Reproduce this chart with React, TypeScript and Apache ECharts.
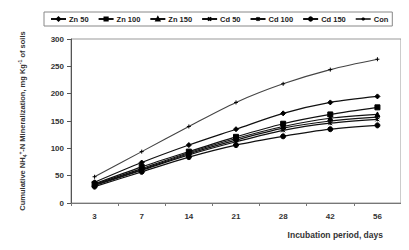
import React, { useEffect, useRef } from "react";
import * as echarts from "echarts";

const categories = ["3", "7", "14", "21", "28", "42", "56"];
const zn50 = [38, 74, 106, 135, 164, 184, 195];
const zn100 = [35, 66, 94, 121, 145, 162, 175];
const zn150 = [34, 63, 92, 118, 140, 155, 162];
const cd50 = [33, 61, 90, 115, 137, 150, 157];
const cd100 = [32, 60, 88, 112, 133, 146, 153];
const cd150 = [30, 57, 84, 106, 122, 135, 142];
const con = [48, 94, 140, 184, 218, 244, 263];
const yTicks = [0, 50, 100, 150, 200, 250, 300];

const FONT = "'Liberation Sans', Arial, sans-serif";

export default function App() {
  const ref = useRef<HTMLDivElement>(null);
  useEffect(() => {
    if (!ref.current) return;
    const chart = echarts.init(ref.current, null, { renderer: "svg" });
    const mk = (name: string, data: number[], symbol: string, size: number, color = "#111", lw = 1.2) => ({
      name,
      type: "line",
      data,
      smooth: 0.3,
      symbol,
      symbolSize: size,
      showSymbol: true,
      lineStyle: { color, width: lw },
      itemStyle: { color: "#000", borderColor: "#000", borderWidth: 1 },
    });
    const xPath = "path://M0,0L10,10M10,0L0,10";
    const starPath = "path://M0,0L10,10M10,0L0,10M5,0L5,10";
    const plusPath = "path://M5,0L5,10M0,5L10,5";
    chart.setOption({
      animation: false,
      backgroundColor: "#fff",
      grid: { left: 71, right: 8, top: 39, bottom: 47, show: true, borderColor: "#999", borderWidth: 1 },
      legend: {
        left: 44,
        top: 12,
        width: 362,
        padding: [3, 4, 3, 6],
        borderColor: "#888",
        borderWidth: 1,
        itemWidth: 15,
        itemHeight: 4,
        itemGap: 9,
        textStyle: { fontFamily: FONT, fontWeight: "bold", fontSize: 7.5, color: "#222", padding: [0, 0, 0, -2] },
        data: ["Zn 50", "Zn 100", "Zn 150", "Cd 50", "Cd 100", "Cd 150", "Con"],
      },
      xAxis: {
        type: "category",
        data: categories,
        boundaryGap: true,
        axisLine: { lineStyle: { color: "#777", width: 1 } },
        axisTick: { show: true, length: 3, lineStyle: { color: "#777" } },
        axisLabel: { fontFamily: FONT, fontWeight: "bold", fontSize: 8, color: "#333", margin: 9 },
      },
      yAxis: {
        type: "value",
        min: 0,
        max: 300,
        interval: 50,
        splitLine: { show: false },
        axisLine: { show: true, lineStyle: { color: "#555", width: 1 } },
        axisTick: { show: true, length: 4, lineStyle: { color: "#555" } },
        axisLabel: {
          fontFamily: FONT,
          fontWeight: "bold",
          fontSize: 8,
          color: "#333",
          margin: 7,
          formatter: (v: number) => (yTicks.includes(v) ? String(v) : ""),
        },
      },
      graphic: [
        { type: "line", shape: { x1: 0, y1: 1, x2: 409, y2: 1 }, style: { stroke: "#999", lineWidth: 2 } },
        { type: "line", shape: { x1: 407, y1: 0, x2: 407, y2: 60 }, style: { stroke: "#bbb", lineWidth: 1 } },
        {
          type: "text",
          x: 383,
          y: 235,
          style: {
            text: "Incubation period, days",
            fontFamily: FONT,
            fontWeight: "bold",
            fontSize: 8.5,
            fill: "#333",
            align: "right",
            verticalAlign: "middle",
          },
        },
        {
          type: "text",
          x: 22,
          y: 121,
          rotation: Math.PI / 2,
          style: {
            text: "{a|Cumulative NH}{sub|4}{sup|+}{a|-N Mineralization, mg Kg}{sup|-1}{a| of soils}",
            align: "center",
            verticalAlign: "middle",
            rich: {
              a: { fontFamily: FONT, fontWeight: "bold", fontSize: 7.5, fill: "#333", lineHeight: 10 },
              sub: { fontFamily: FONT, fontWeight: "bold", fontSize: 5, fill: "#333", verticalAlign: "bottom", lineHeight: 10 },
              sup: { fontFamily: FONT, fontWeight: "bold", fontSize: 5, fill: "#333", verticalAlign: "top", lineHeight: 10 },
            },
          },
        },
      ],
      series: [
        mk("Zn 50", zn50, "diamond", 5),
        mk("Zn 100", zn100, "rect", 5),
        mk("Zn 150", zn150, "triangle", 5),
        mk("Cd 50", cd50, xPath, 4),
        mk("Cd 100", cd100, starPath, 4),
        mk("Cd 150", cd150, "circle", 5),
        mk("Con", con, plusPath, 4, "#444", 1.1),
      ],
    });
    return () => chart.dispose();
  }, []);
  return <div ref={ref} style={{ width: 409, height: 250, margin: -8 }} />;
}
